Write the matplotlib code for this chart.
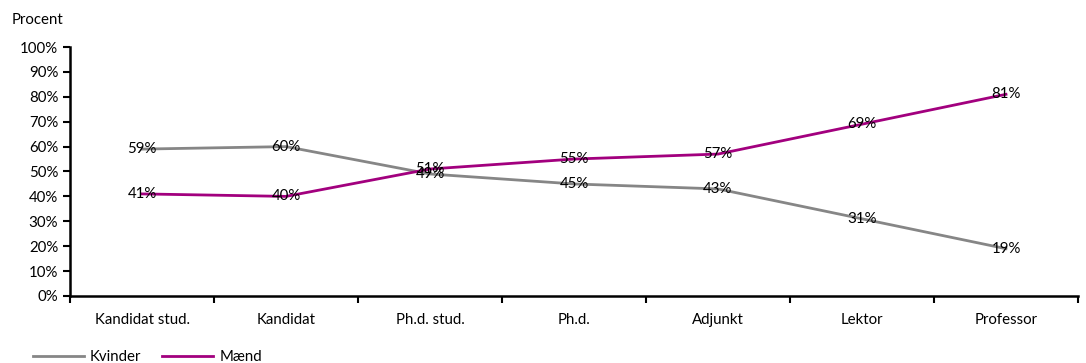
import numpy as np
import matplotlib.pyplot as plt
from matplotlib.ticker import MultipleLocator, FuncFormatter

plt.rcParams['font.family'] = ['Lato', 'DejaVu Sans']

categories = ['Kandidat stud.', 'Kandidat', 'Ph.d. stud.', 'Ph.d.', 'Adjunkt', 'Lektor', 'Professor']
kvinder = [59, 60, 49, 45, 43, 31, 19]
maend = [41, 40, 51, 55, 57, 69, 81]

grey = '#868686'
purple = '#a2007e'
fs = 10.8

fig = plt.figure(figsize=(10.86, 3.63), dpi=100)
ax = fig.add_axes([0.0645, 0.1846, 0.9281, 0.6859])

x = np.arange(len(categories))
ax.plot(x, kvinder, color=grey, lw=2, label='Kvinder')
ax.plot(x, maend, color=purple, lw=2, label='Mænd')

# value labels sit right on the points
for xi, v in zip(x, kvinder):
    ax.text(xi, v, f'{v}%', ha='center', va='center', fontsize=fs)
for xi, v in zip(x, maend):
    ax.text(xi, v, f'{v}%', ha='center', va='center', fontsize=fs)

ax.set_xlim(-0.5, len(categories) - 0.5)
ax.set_ylim(0, 100)
ax.yaxis.set_major_locator(MultipleLocator(10))
ax.yaxis.set_major_formatter(FuncFormatter(lambda v, p: f'{v:.0f}%'))
ax.set_xticks(x)
ax.set_xticklabels(categories)
ax.tick_params(axis='x', length=0, pad=12, labelsize=fs)
ax.set_xticks(np.arange(-0.5, len(categories), 1), minor=True)
ax.tick_params(axis='x', which='minor', length=5, width=1.5, direction='out')
ax.tick_params(axis='y', length=5, width=1.5, direction='out', labelsize=fs)

for side in ['top', 'right']:
    ax.spines[side].set_visible(False)
for side in ['left', 'bottom']:
    ax.spines[side].set_linewidth(1.8)

fig.text(0.011, 0.945, 'Procent', fontsize=fs, ha='left', va='center')

fig.legend(loc='lower left', bbox_to_anchor=(0.018, -0.04), ncol=2, frameon=False,
           fontsize=fs, handlelength=3.4, columnspacing=1.4, handletextpad=0.4)

fig.savefig('out.png', dpi=100)
